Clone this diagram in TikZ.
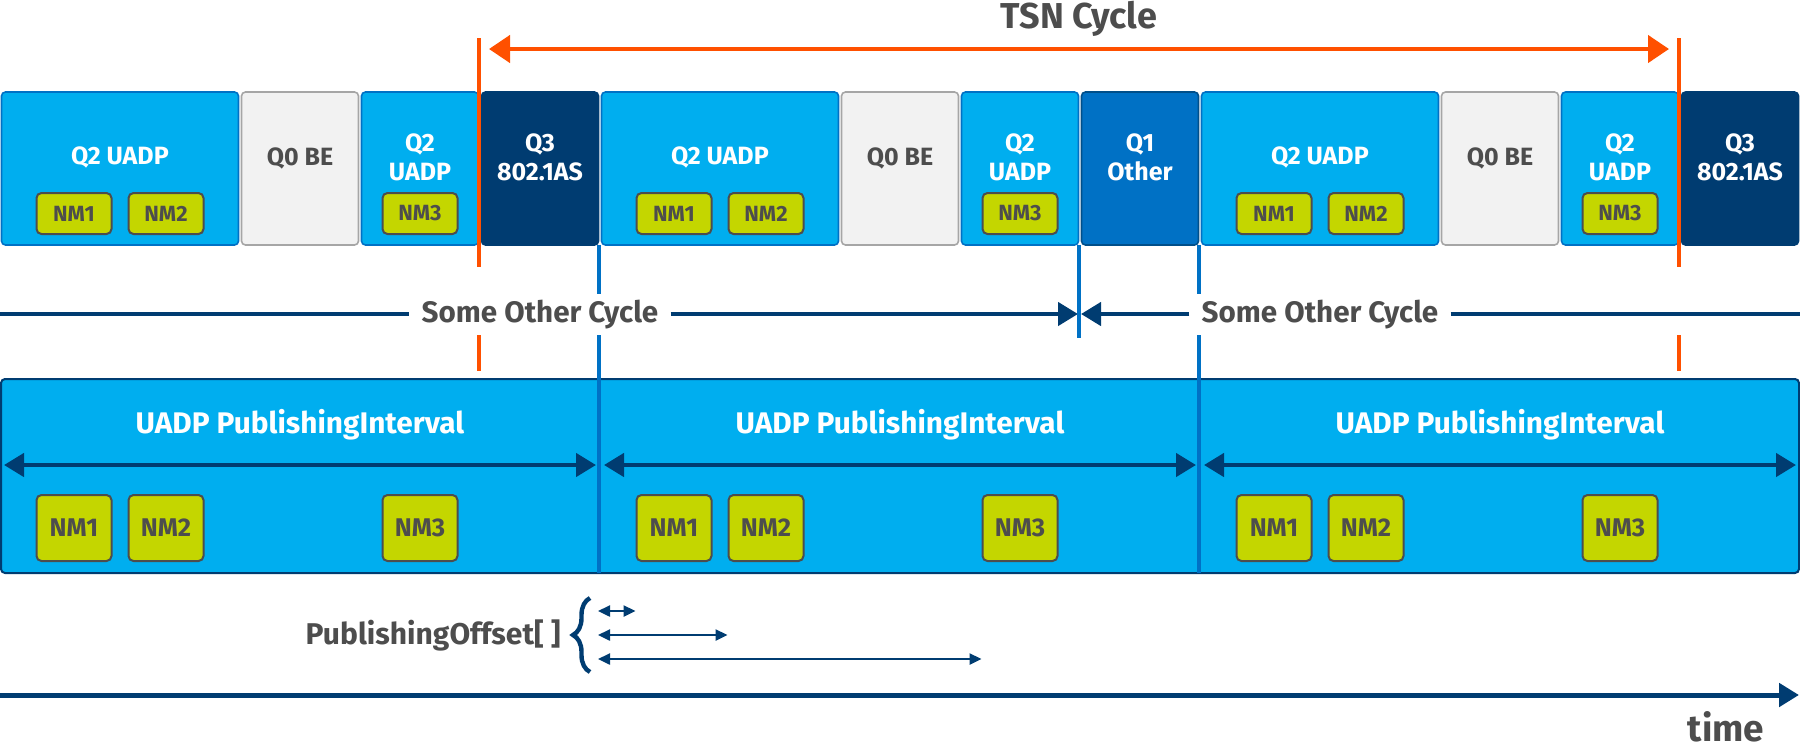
\documentclass[tikz,border=0pt]{standalone}
\usepackage{fontspec}
\setmainfont{Fira Sans}
\usepackage{tikz}
\usetikzlibrary{arrows.meta,decorations.pathreplacing}

\definecolor{uadpblue}{HTML}{00AEEF}
\definecolor{midblue}{HTML}{0071C5}
\definecolor{navy}{HTML}{003C71}
\definecolor{othernavy}{HTML}{004F8A}
\definecolor{tsnorange}{HTML}{FF5000}
\definecolor{nmgreen}{HTML}{C4D600}
\definecolor{begray}{HTML}{F2F2F2}
\definecolor{beborder}{HTML}{A6A6A6}
\definecolor{txtgray}{HTML}{4D4D4D}

\tikzset{
  slot/.style={draw, line width=0.8pt, rounded corners=2pt, minimum height=76.5pt, inner sep=0pt},
  slottext/.style={font=\bfseries\fontsize{12.5}{14.5}\selectfont, text=white, align=center, inner sep=0pt},
  nmbox/.style={draw=txtgray, fill=nmgreen, line width=1pt, rounded corners=2.5pt, minimum width=37.5pt,
    inner sep=0pt, text=txtgray, font=\bfseries\fontsize{11}{12}\selectfont},
  bignm/.style={nmbox, minimum height=33pt, font=\bfseries\fontsize{12.8}{14}\selectfont},
  pubbox/.style={draw=navy, fill=uadpblue, line width=1pt, rounded corners=2pt, inner sep=0pt},
  pubtext/.style={font=\bfseries\fontsize{14.9}{17}\selectfont, text=white, inner sep=0pt},
  headtext/.style={font=\bfseries\fontsize{18}{21}\selectfont, text=txtgray, inner sep=0pt},
  soctext/.style={font=\bfseries\fontsize{14.8}{17}\selectfont, text=txtgray, inner xsep=6pt, inner ysep=0pt},
  offtext/.style={font=\bfseries\fontsize{15}{17}\selectfont, text=txtgray, inner sep=0pt},
  timetext/.style={font=\bfseries\fontsize{18.5}{21}\selectfont, text=txtgray, inner sep=0pt},
  tsnmark/.style={draw=tsnorange, line width=2pt},
  tsnarrow/.style={draw=tsnorange, line width=2.2pt, {Triangle[length=10.5pt,width=13.5pt]}-{Triangle[length=10.5pt,width=13.5pt]}},
  cycleline/.style={draw=midblue, line width=2pt},
  socline/.style={draw=navy, line width=2.2pt},
  ivarrow/.style={draw=navy, line width=2.2pt, {Triangle[length=10pt,width=11.5pt]}-{Triangle[length=10pt,width=11.5pt]}},
  offarrow/.style={draw=navy, line width=1.2pt, {Triangle[length=6pt,width=5.5pt]}-{Triangle[length=6pt,width=5.5pt]}},
  timearrow/.style={draw=navy, line width=2.5pt, -{Triangle[length=10pt,width=11.5pt]}}
}

\begin{document}
\begin{tikzpicture}[x=0.5pt,y=-0.5pt]
\useasboundingbox (0,0) rectangle (1800,751);

\path (1079,19) node (tsn) [headtext] {TSN Cycle};
\coordinate (tsnA) at (489,49);
\coordinate (tsnB) at (1669,49);
\draw[tsnarrow] (tsnA) -- (tsnB);

\foreach \p/\qtext/\qfill/\qdraw in {0/{Q3\\802.1AS}/navy/navy,1/{Q1\\Other}/midblue/othernavy,2/{Q3\\802.1AS}/navy/navy} {
  \pgfmathsetmacro{\ox}{600*\p}
  \path (\ox+120,168.5) node (uadpA\p) [slot, fill=uadpblue, draw=midblue, minimum width=118.5pt] {};
  \path (\ox+300,168.5) node (be\p) [slot, fill=begray, draw=beborder, minimum width=58.5pt] {};
  \path (\ox+420,168.5) node (uadpB\p) [slot, fill=uadpblue, draw=midblue, minimum width=58.5pt] {};
  \path (\ox+540,168.5) node (last\p) [slot, fill=\qfill, draw=\qdraw, minimum width=58.5pt] {};
  \path (\ox+120,157) node (uadpAtxt\p) [slottext] {Q2 UADP};
  \path (\ox+300,158) node (betxt\p) [slottext, text=txtgray] {Q0 BE};
  \path (\ox+420,157.5) node (uadpBtxt\p) [slottext] {Q2\\UADP};
  \path (\ox+540,157.5) node (lasttxt\p) [slottext] {\qtext};
  \path (\ox+74,213.5) node (tnm1\p) [nmbox, minimum height=20.5pt] {NM1};
  \path (\ox+166,213.5) node (tnm2\p) [nmbox, minimum height=20.5pt] {NM2};
  \path (\ox+420,213.5) node (tnm3\p) [nmbox, minimum height=20.5pt] {NM3};
}

\foreach \x in {479,1679} {
  \draw[tsnmark] (\x,38) -- (\x,267);
  \draw[tsnmark] (\x,335) -- (\x,371);
}

\coordinate (socStart) at (0,314);
\coordinate (socEnd) at (1800,314);
\coordinate (socTipL) at (1078,314);
\coordinate (socTipR) at (1081,314);
\path (540,315) node (soc1) [soctext] {Some Other Cycle};
\path (1320,315) node (soc2) [soctext] {Some Other Cycle};
\draw[socline] (socStart) -- (socStart -| soc1.west);
\draw[socline, -{Triangle[length=10pt,width=11.5pt]}] (socStart -| soc1.east) -- (socTipL);
\draw[socline, -{Triangle[length=10pt,width=11.5pt]}] (socStart -| soc2.west) -- (socTipR);
\draw[socline] (socStart -| soc2.east) -- (socEnd);

\path (900,476) node (pub) [pubbox, minimum width=899pt, minimum height=97pt] {};
\foreach \p in {0,1,2} {
  \pgfmathsetmacro{\ox}{600*\p}
  \path (\ox+300,425) node (pitxt\p) [pubtext] {UADP PublishingInterval};
  \coordinate (piL\p) at (\ox+4,465);
  \coordinate (piR\p) at (\ox+596,465);
  \draw[ivarrow] (piL\p) -- (piR\p);
  \path (\ox+74,528) node (lnm1\p) [bignm] {NM1};
  \path (\ox+166,528) node (lnm2\p) [bignm] {NM2};
  \path (\ox+420,528) node (lnm3\p) [bignm] {NM3};
}

\foreach \x in {599,1199} {
  \draw[cycleline] (\x,245) -- (\x,294);
  \draw[cycleline] (\x,335) -- (\x,573);
}
\draw[cycleline] (1079,245) -- (1079,338);

\path (561,635) node (offtxt) [offtext, anchor=east] {PublishingOffset[ ]};
\coordinate (brB) at (590,672);
\coordinate (brT) at (590,598);
\draw[navy, line width=2.2pt, decorate, decoration={brace, amplitude=8.5pt}] (brB) -- (brT);
\coordinate (off1) at (598,611);
\coordinate (off2) at (598,635);
\coordinate (off3) at (598,659);
\draw[offarrow] (off1) -- (off1 -| lnm11.west);
\draw[offarrow] (off2) -- (off2 -| lnm21.west);
\draw[offarrow] (off3) -- (off3 -| lnm31.west);

\coordinate (t0) at (0,695);
\coordinate (t1) at (1799,695);
\draw[timearrow] (t0) -- (t1);
\path (1726,727) node (time) [timetext] {time};
\end{tikzpicture}
\end{document}
